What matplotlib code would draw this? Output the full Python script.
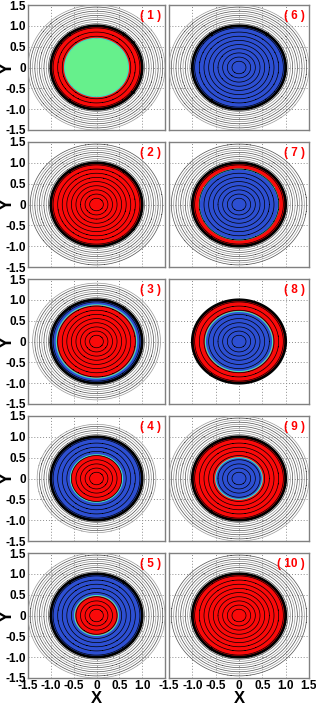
import numpy as np
import matplotlib.pyplot as plt
from matplotlib.colors import ListedColormap

plt.rcParams['font.family'] = ['Liberation Sans', 'DejaVu Sans']
plt.rcParams['font.weight'] = 'bold'

# panel numbers, left column 1-5, right column 6-10
labels = ['( 1 )', '( 2 )', '( 3 )', '( 4 )', '( 5 )',
          '( 6 )', '( 7 )', '( 8 )', '( 9 )', '( 10 )']
inner_phase = ['green', 'red', 'red', 'red', 'red',
               'blue', 'blue', 'blue', 'blue', 'red']
outer_phase = ['red', 'red', 'blue', 'blue', 'blue',
               'blue', 'red', 'red', 'red', 'red']
interface_r = [0.70, 0.0, 0.88, 0.57, 0.48, 0.0, 0.85, 0.72, 0.50, 0.0]
outer_rmax = [1.50, 1.45, 1.40, 1.30, 1.50, 1.50, 1.45, 0.0, 1.50, 1.45]
ticks = [-1.5, -1.0, -0.5, 0, 0.5, 1.0, 1.5]
tick_labels = ['-1.5', '-1.0', '-0.5', '0', '0.5', '1.0', '1.5']

phase_colors = {'green': '#66f08c', 'red': '#fa0a0a', 'blue': '#2d4fd2'}

n = 301
x = np.linspace(-1.5, 1.5, n)
y = np.linspace(-1.5, 1.5, n)
X, Y = np.meshgrid(x, y)
R = np.sqrt(X**2 + Y**2)

fig = plt.figure(figsize=(3.16, 7.08), dpi=100)
W, H = 316.0, 708.0
col_x = [(28, 137), (169, 140)]
row_top0, row_h, row_pitch = 5, 125, 137

for k in range(10):
    col = k // 5
    row = k % 5
    x0, w = col_x[col]
    top = row_top0 + row * row_pitch
    ax = fig.add_axes([x0 / W, 1 - (top + row_h) / H, w / W, row_h / H])

    ax.set_xlim(-1.5, 1.5)
    ax.set_ylim(-1.5, 1.5)
    ax.set_xticks(ticks)
    ax.set_yticks(ticks)
    ax.grid(True, linestyle=(0, (1, 2)), color='0.55', linewidth=0.7, zorder=0)
    ax.set_axisbelow(True)

    # phase field inside the droplet
    field = np.full(R.shape, np.nan)
    field[R <= 1.0] = 1
    field[R <= interface_r[k]] = 0
    cmap = ListedColormap([phase_colors[inner_phase[k]], phase_colors[outer_phase[k]]])
    ax.pcolormesh(X, Y, np.ma.masked_invalid(field), cmap=cmap, vmin=0, vmax=1,
                  shading='auto', zorder=1)

    # interface line
    if interface_r[k] > 0:
        ax.contour(X, Y, R, levels=[interface_r[k]], colors=['#40e0c0'],
                   linewidths=0.8, zorder=2)

    # contours inside the drop (none in the green phase)
    inner_levels = np.arange(0.15, 0.96, 0.1)
    if inner_phase[k] == 'green':
        inner_levels = inner_levels[inner_levels > interface_r[k] + 0.05]
    ax.contour(X, Y, R, levels=inner_levels, colors='k', linewidths=0.5, zorder=3)

    # contours outside the drop
    if outer_rmax[k] > 0:
        out_levels = np.arange(1.05, outer_rmax[k] + 1e-6, 0.05)
        cols = ['0.3' if i % 2 == 0 else '0.6' for i in range(len(out_levels))]
        ax.contour(X, Y, R, levels=out_levels, colors=cols, linewidths=0.5, zorder=3)

    # drop boundary
    ax.contour(X, Y, R, levels=[1.0], colors='k', linewidths=2.0, zorder=4)

    ax.text(0.97, 0.96, labels[k], transform=ax.transAxes, ha='right', va='top',
            color='red', fontsize=8.5, fontweight='bold', zorder=5)

    for s in ax.spines.values():
        s.set_color('0.5')
        s.set_linewidth(1.0)
    ax.tick_params(length=0, labelsize=8.5, pad=1.5)

    if col == 0:
        ax.set_yticklabels(tick_labels)
        fig.text(7 / W, 1 - (top + row_h / 2) / H, 'Y', rotation=90,
                 ha='center', va='center', fontsize=13, fontweight='bold')
    else:
        ax.set_yticklabels([])
    if row == 4:
        xl = tick_labels[:-1] + [''] if col == 0 else tick_labels
        ax.set_xticklabels(xl)
        ax.set_xlabel('X', fontsize=12, fontweight='bold', labelpad=-1)
    else:
        ax.set_xticklabels([])

fig.savefig('out.png', dpi=100)
